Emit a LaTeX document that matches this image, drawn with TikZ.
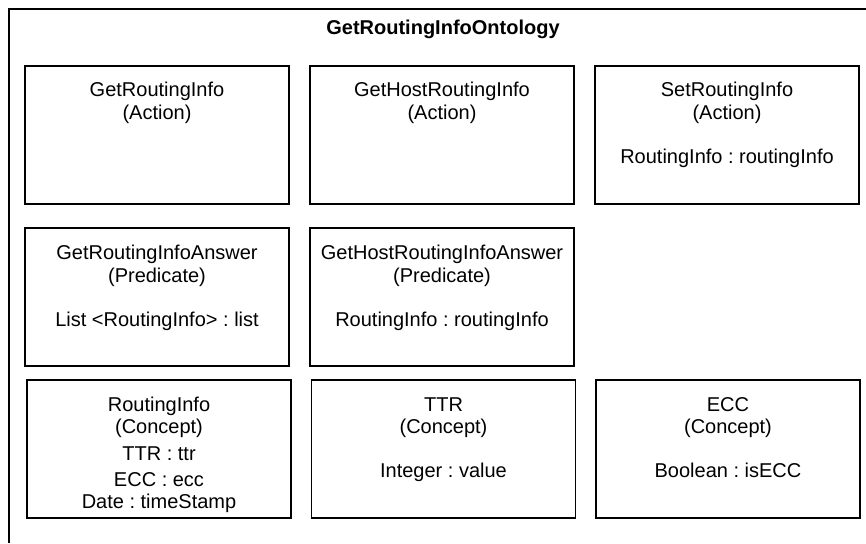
\documentclass[tikz,border=0pt]{standalone}
\usepackage{fontspec}
\setmainfont{Liberation Sans}
\frenchspacing
\begin{document}
\begin{tikzpicture}[x=1pt,y=-1pt,
  every node/.style={font=\fontsize{20}{23}\selectfont},
  box/.style={draw, line width=1.2pt, minimum width=264pt, minimum height=138pt, inner sep=0pt},
  txt/.style={anchor=base, inner sep=0pt},
  frame/.style={line width=1.2pt}]
\useasboundingbox (0,0) rectangle (866,543);
% outer frame (continues beyond right and bottom edges)
\coordinate (fbl) at (9,543);
\coordinate (ftl) at (9,9);
\coordinate (ftr) at (866,9);
\draw[frame] (fbl) -- (ftl) -- (ftr);
\node[txt, font=\fontsize{20}{23}\selectfont\bfseries] (title) at (443,35) {GetRoutingInfoOntology};
% boxes
\node[box] (b1) at (157,135) {};
\node[box] (b2) at (442,135) {};
\node[box] (b3) at (727,135) {};
\node[box] (b4) at (157,297) {};
\node[box] (b5) at (442,297) {};
\node[box] (b6) at (159,449) {};
\node[box] (b7) at (443.5,449) {};
\node[box] (b8) at (728,449) {};
% texts
\node[txt] (b1a) at (157,96) {GetRoutingInfo};
\node[txt] (b1b) at (157,119) {(Action)};
\node[txt] (b2a) at (442,96) {GetHostRoutingInfo};
\node[txt] (b2b) at (442,119) {(Action)};
\node[txt] (b3a) at (727,96) {SetRoutingInfo};
\node[txt] (b3b) at (727,119) {(Action)};
\node[txt] (b3c) at (727,163) {RoutingInfo : routingInfo};
\node[txt] (b4a) at (157,259) {GetRoutingInfoAnswer};
\node[txt] (b4b) at (157,282) {(Predicate)};
\node[txt] (b4c) at (157,326) {List <RoutingInfo> : list};
\node[txt] (b5a) at (442,259) {GetHostRoutingInfoAnswer};
\node[txt] (b5b) at (442,282) {(Predicate)};
\node[txt] (b5c) at (442,326) {RoutingInfo : routingInfo};
\node[txt] (b6a) at (159,411) {RoutingInfo};
\node[txt] (b6b) at (159,433) {(Concept)};
\node[txt] (b6c) at (159,460) {TTR : ttr};
\node[txt] (b6d) at (159,486) {ECC : ecc};
\node[txt] (b6e) at (159,508) {Date : timeStamp};
\node[txt] (b7a) at (443.5,411) {TTR};
\node[txt] (b7b) at (443.5,433) {(Concept)};
\node[txt] (b7c) at (443.5,477) {Integer : value};
\node[txt] (b8a) at (728,411) {ECC};
\node[txt] (b8b) at (728,433) {(Concept)};
\node[txt] (b8c) at (728,477) {Boolean : isECC};
\end{tikzpicture}
\end{document}
